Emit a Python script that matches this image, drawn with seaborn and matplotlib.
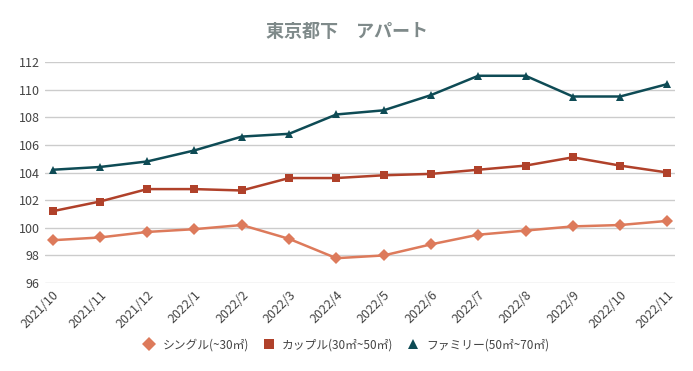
import matplotlib
matplotlib.use("Agg")
import matplotlib.pyplot as plt
import seaborn as sns
import pandas as pd

months = ["2021/10", "2021/11", "2021/12", "2022/1", "2022/2", "2022/3", "2022/4",
          "2022/5", "2022/6", "2022/7", "2022/8", "2022/9", "2022/10", "2022/11"]
single = [99.1, 99.3, 99.7, 99.9, 100.2, 99.2, 97.8, 98.0, 98.8, 99.5, 99.8, 100.1, 100.2, 100.5]
couple = [101.2, 101.9, 102.8, 102.8, 102.7, 103.6, 103.6, 103.8, 103.9, 104.2, 104.5, 105.1, 104.5, 104.0]
family = [104.2, 104.4, 104.8, 105.6, 106.6, 106.8, 108.2, 108.5, 109.6, 111.0, 111.0, 109.5, 109.5, 110.4]
series_names = ["シングル(~30㎡)", "カップル(30㎡~50㎡)", "ファミリー(50㎡~70㎡)"]
colors = ["#DD7A5B", "#B0412A", "#0E4B55"]
markers = ["D", "s", "^"]
yticks = [96, 98, 100, 102, 104, 106, 108, 110, 112]

sns.set_theme(style="white")
plt.rcParams['font.family'] = ['Noto Sans CJK JP', 'DejaVu Sans']

rows = []
for name, vals in zip(series_names, [single, couple, family]):
    for i, (m, v) in enumerate(zip(months, vals)):
        rows.append({"idx": i, "month": m, "value": v, "series": name})
df = pd.DataFrame(rows)

fig = plt.figure(figsize=(6.93, 3.71), dpi=100)
ax = fig.add_axes([0.065, 0.237, 0.909, 0.596])

sns.lineplot(data=df, x="idx", y="value", hue="series", style="series",
             palette=colors, markers=markers, dashes=False, markersize=6,
             markeredgewidth=0, linewidth=1.8, ax=ax, legend=True)

ax.set_xlim(-0.16, 13.16)
ax.set_ylim(96, 112)
ax.set_yticks(yticks)
ax.set_yticklabels([str(t) for t in yticks], fontsize=9, color="#444444")
ax.set_xticks(range(len(months)))
ax.set_xticklabels(months, rotation=45, ha="right", rotation_mode="anchor",
                   fontsize=9, color="#444444")
ax.tick_params(axis="both", length=0, pad=4)
ax.yaxis.grid(True, color="#CCCCCC", linewidth=1)
ax.set_axisbelow(True)
for s in ax.spines.values():
    s.set_visible(False)
ax.set_xlabel("")
ax.set_ylabel("")

handles, labels = ax.get_legend_handles_labels()
ax.legend(handles, labels, loc="center", bbox_to_anchor=(0.5, 0.07),
          bbox_transform=fig.transFigure, ncol=3, frameon=False, fontsize=8.5,
          handlelength=1.0, handletextpad=0.6, columnspacing=1.2,
          labelcolor="#444444")
for h in ax.get_legend().legend_handles:
    h.set_linestyle("None")
    h.set_markersize(7)

fig.text(0.5, 0.915, "東京都下　アパート", ha="center", va="center",
         fontsize=13, fontweight="bold", color="#7F8A8A")

fig.savefig("out.png", dpi=100)
